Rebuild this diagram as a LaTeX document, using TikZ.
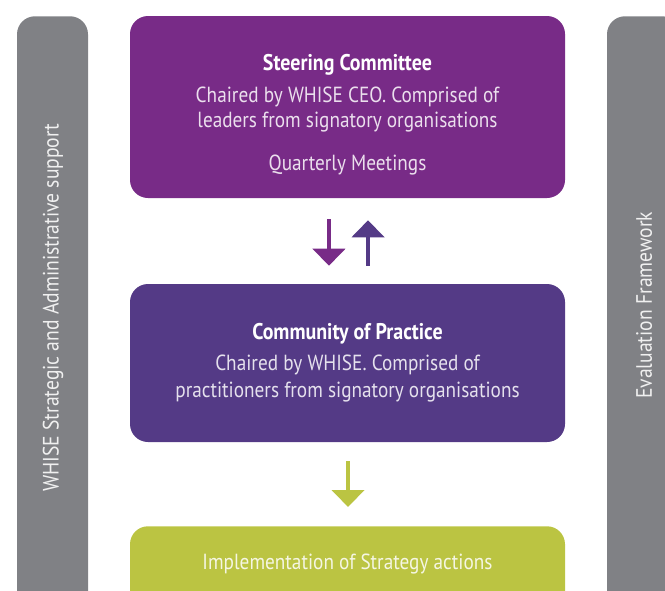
\documentclass[tikz,border=0pt]{standalone}
\usepackage{fontspec}
\setmainfont[FakeStretch=0.88]{PT Sans}
\usetikzlibrary{arrows.meta}
\definecolor{steer}{HTML}{782B87}
\definecolor{comm}{HTML}{543A86}
\definecolor{impl}{HTML}{BBC442}
\definecolor{bargrey}{HTML}{808185}
\tikzset{
  box/.style={rounded corners=13.5pt, inner sep=0pt, minimum width=326.25pt},
  boxtext/.style={align=center, inner sep=0pt, font=\fontsize{16.4}{18.75}\selectfont},
  titlefont/.style={},
  bar/.style={rounded corners=13.5pt, inner sep=0pt, fill=bargrey, minimum height=468pt},
  vtext/.style={rotate=90, text=white!88!bargrey, font=\fontsize{16.7}{19}\selectfont},
  arr/.style={line width=3.4pt, -{Triangle[width=24pt,length=12.75pt]}},
}
\newcommand{\boxtitle}[1]{\textcolor{white}{\fontsize{17}{18.75}\selectfont\bfseries #1}}
\begin{document}
\begin{tikzpicture}[x=0.75pt,y=-0.75pt]
\useasboundingbox (0,0) rectangle (665,590);
\begin{scope}
\clip (0,0) rectangle (665,590);
\node[bar, minimum width=53.25pt, anchor=north,
  label={[name=admintext, xshift=0.4pt, yshift=15.4pt, vtext]center:WHISE Strategic and Administrative support}]
  (admin) at (52.5,16) {};
\node[bar, minimum width=54.75pt, anchor=north,
  label={[name=evaltext, xshift=0.4pt, yshift=17.25pt, vtext]center:Evaluation Framework}]
  (eval) at (643.5,16) {};
\node[box, fill=steer, minimum height=136.5pt,
  label={[name=steertext, boxtext, text=white!85!steer, yshift=-6pt]center:\boxtitle{Steering Committee}\\[5.25pt]
   Chaired by WHISE CEO. Comprised of\\
   leaders from signatory organisations\\[13.5pt]
   Quarterly Meetings}] (steer) at (347.5,107) {};
\node[box, fill=comm, minimum height=118.5pt,
  label={[name=commtext, boxtext, text=white!85!comm, yshift=0pt]center:\boxtitle{Community of Practice}\\[4.5pt]
   Chaired by WHISE. Comprised of\\[1.5pt]
   practitioners from signatory organisations}] (comm) at (347.5,363) {};
\node[box, fill=impl, minimum height=75pt, anchor=north,
  label={[name=impltext, boxtext, text=white!85!impl, yshift=9pt]center:Implementation of Strategy actions}]
  (impl) at (347.5,526) {};
\end{scope}
\draw[arr, draw=steer, shorten <=15.75pt, shorten >=13.5pt]
  ([xshift=-13.9pt]steer.south) -- ([xshift=-13.9pt]comm.north);
\draw[arr, draw=comm, shorten <=13.5pt, shorten >=16.5pt]
  ([xshift=15.4pt]comm.north) -- ([xshift=15.4pt]steer.south);
\draw[arr, draw=impl, shorten <=14.25pt, shorten >=14.25pt]
  ([xshift=0.4pt]comm.south) -- ([xshift=0.4pt]impl.north);
\end{tikzpicture}
\end{document}
